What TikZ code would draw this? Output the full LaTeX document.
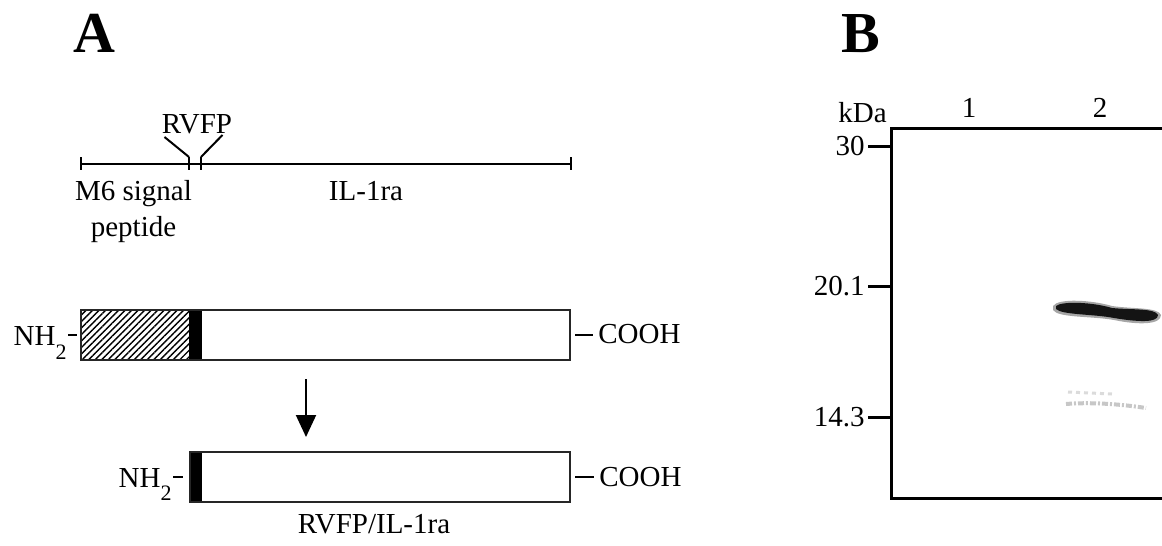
\documentclass[tikz,border=0pt]{standalone}
\usepackage{fontspec}
\setmainfont{Liberation Serif}
\usetikzlibrary{arrows.meta,patterns.meta}

\begin{document}
\begin{tikzpicture}[x=0.5pt, y=-0.5pt,
		every node/.style={inner sep=0pt, font=\fontsize{14.5}{17}\selectfont},
		panel/.style={anchor=base west, font=\fontsize{29}{30}\selectfont\bfseries},
		lbl/.style={anchor=base},
		bar/.style={draw=black!85, line width=1.3pt, anchor=north west, outer sep=0pt, minimum height=25pt},
		bond/.style={line width=1pt},
		tick/.style={line width=1.5pt},
		hatch/.style={pattern={Lines[angle=45, distance=2.3pt, line width=0.7pt]}}]
			\useasboundingbox (0,0) rectangle (1162,546);
			\clip (0,0) rectangle (1162,546);

			% panel A
			\node[panel] (pA) at (73,52) {A};
			\node[lbl] (rvfp) at (197,133) {RVFP};
			\node[lbl] (sig1) at (133.5,200) {M6 signal};
			\node[lbl] (sig2) at (133.5,236) {peptide};
			\node[lbl] (il) at (366,200) {IL-1ra};

			\coordinate (sigL) at (81,164);
			\coordinate (cutL) at (189,164);
			\coordinate (cutR) at (201,164);
			\coordinate (sigR) at (571,164);
			\draw[bond] (sigL) -- (sigR);
			\foreach \p in {sigL, cutL, cutR, sigR}
				\draw[bond] ([yshift=3.5pt]\p) -- ([yshift=-3pt]\p);
			\draw[bond] ([shift={(1.5pt,-2pt)}]rvfp.base west) -- ([yshift=3.5pt]cutL);
			\draw[bond] ([shift={(-5pt,-1pt)}]rvfp.base east) -- ([yshift=3.5pt]cutR);

			% precursor
			\fill[hatch] (81,310) rectangle (189,360);
			\fill (189,310) rectangle (202,360);
			\node[bar, minimum width=244.5pt] (barA) at (81,310) {};
			\node[anchor=base east] (nhA) at (67,345) {NH\raisebox{-7pt}{\fontsize{11}{11}\selectfont 2}};
			\node[anchor=base west] (coA) at (598,343) {COOH};
			\draw[bond, line width=1.3pt] ([xshift=0.5pt]nhA.base east |- barA.west) -- ([xshift=-2pt]barA.west);
			\draw[bond, line width=1.3pt] ([xshift=2.5pt]barA.east) -- ([xshift=-2.5pt]coA.west |- barA.east);

			\coordinate (cutTop) at (306,379);
			\coordinate (cutEnd) at (306,437);
			\draw[bond, -{Triangle[length=11pt, width=10pt]}] (cutTop) -- (cutEnd);

			% mature protein
			\fill (190,452) rectangle (202,502);
			\node[bar, minimum width=190pt] (barB) at (190,452) {};
			\node[anchor=base east] (nhB) at (172,487) {NH\raisebox{-6.5pt}{\fontsize{11}{11}\selectfont 2}};
			\node[anchor=base west] (coB) at (599,486) {COOH};
			\draw[bond, line width=1.3pt] ([xshift=0.5pt]nhB.base east |- barB.west) -- ([xshift=-3.5pt]barB.west);
			\draw[bond, line width=1.3pt] ([xshift=2.5pt]barB.east) -- ([xshift=-2.5pt]coB.west |- barB.east);
			\node[lbl] (mat) at (374,533) {RVFP/IL-1ra};

			% panel B
			\node[panel] (pB) at (841,52) {B};
			\node[lbl] (kda) at (862.5,122) {kDa};
			\node[lbl] (ln1) at (969,117) {1};
			\node[lbl] (ln2) at (1100,117) {2};

			\coordinate (gelW) at (891,128);
			\draw[tick] (gelW) rectangle (1180,498);
			\node[anchor=east] (m30) at (865,146) {30};
			\node[anchor=east] (m201) at (865,286) {20.1};
			\node[anchor=east] (m143) at (865,417) {14.3};
			\foreach \m in {m30, m201, m143}
				\draw[tick] ([xshift=1.5pt]\m.east) -- (\m.east -| gelW);

			% bands
			\fill[black!35] (1053,306) .. controls (1058,298) and (1092,300) .. (1112,306)
				.. controls (1132,309) and (1158,307) .. (1161,315) .. controls (1161,325) and (1138,325) .. (1114,320)
				.. controls (1092,316) and (1058,318) .. (1053,310) -- cycle;
			\fill[black!92] (1056,306) .. controls (1062,301) and (1092,302) .. (1112,308)
				.. controls (1132,310) and (1155,308) .. (1158,315) .. controls (1158,323) and (1138,322) .. (1114,318)
				.. controls (1094,314) and (1062,315) .. (1056,309) -- cycle;
			\draw[black!22, line width=2pt, dash pattern=on 3pt off 1pt on 1pt off 1pt] (1066,404) .. controls (1090,402) and (1120,404) .. (1146,408);
			\draw[black!14, line width=1.5pt, dash pattern=on 2pt off 2pt] (1068,392) -- (1112,394);
		\end{tikzpicture}
\end{document}
